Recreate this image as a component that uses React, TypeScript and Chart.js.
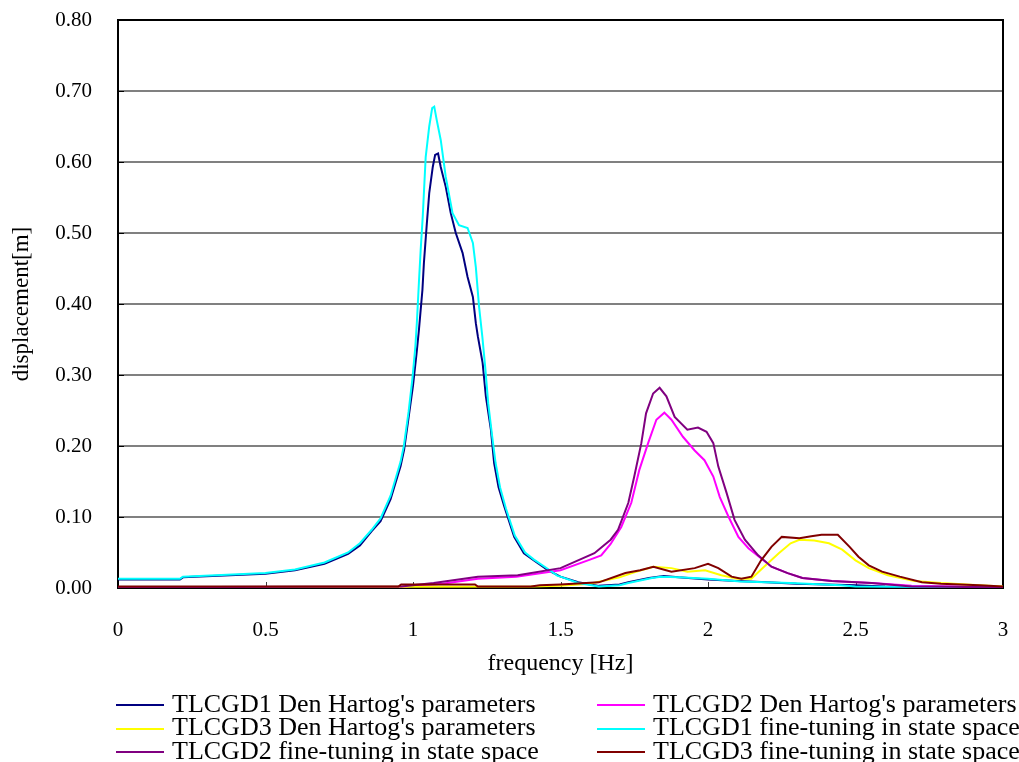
import React, { useEffect, useRef } from 'react';
import { Chart, registerables } from 'chart.js';

Chart.register(...registerables);

const FONT = '"Liberation Serif", "Times New Roman", serif';

const xTickLabels = ['0', '0.5', '1', '1.5', '2', '2.5', '3'];
const yTickLabels = ['0.00', '0.10', '0.20', '0.30', '0.40', '0.50', '0.60', '0.70', '0.80'];

const seriesNames = [
  "TLCGD1 Den Hartog's parameters",
  "TLCGD2 Den Hartog's parameters",
  "TLCGD3 Den Hartog's parameters",
  'TLCGD1 fine-tuning in state space',
  'TLCGD2 fine-tuning in state space',
  'TLCGD3 fine-tuning in state space',
];
const seriesColors = ['#000080', '#FF00FF', '#FFFF00', '#00FFFF', '#800080', '#800000'];

// TLCGD1 Den Hartog's parameters
const freq1DH = [0, 0.21, 0.22, 0.5, 0.6, 0.7, 0.78, 0.82, 0.86, 0.89, 0.924, 0.958, 0.97, 0.985, 1.0, 1.012, 1.02, 1.032, 1.037, 1.047, 1.055, 1.067, 1.075, 1.085, 1.094, 1.111, 1.128, 1.145, 1.168, 1.185, 1.203, 1.213, 1.22, 1.236, 1.247, 1.264, 1.275, 1.29, 1.31, 1.343, 1.376, 1.41, 1.457, 1.49, 1.5, 1.56, 1.63, 1.7, 1.73, 1.8, 1.85, 1.9, 2.0, 2.1, 2.2, 2.3, 2.4, 2.5, 2.6, 3.0];
const disp1DH = [0.012, 0.012, 0.015, 0.02, 0.025, 0.034, 0.048, 0.06, 0.08, 0.094, 0.125, 0.172, 0.195, 0.24, 0.285, 0.33, 0.363, 0.42, 0.458, 0.514, 0.556, 0.593, 0.61, 0.612, 0.593, 0.565, 0.528, 0.5, 0.472, 0.438, 0.41, 0.373, 0.354, 0.317, 0.27, 0.223, 0.176, 0.142, 0.114, 0.072, 0.049, 0.039, 0.025, 0.018, 0.016, 0.008, 0.003, 0.005, 0.008, 0.014, 0.017, 0.015, 0.012, 0.01, 0.008, 0.006, 0.005, 0.004, 0.002, 0.001];

// TLCGD2 Den Hartog's parameters
const freq2DH = [0, 0.96, 1.0, 1.1, 1.22, 1.35, 1.5, 1.6, 1.638, 1.67, 1.706, 1.74, 1.767, 1.797, 1.825, 1.852, 1.876, 1.915, 1.954, 1.988, 2.018, 2.04, 2.07, 2.103, 2.137, 2.17, 2.215, 2.27, 2.32, 2.42, 2.555, 2.69, 3.0];
const disp2DH = [0.001, 0.001, 0.003, 0.006, 0.013, 0.016, 0.025, 0.04, 0.046, 0.062, 0.086, 0.12, 0.166, 0.204, 0.237, 0.247, 0.237, 0.213, 0.194, 0.18, 0.157, 0.128, 0.1, 0.072, 0.056, 0.045, 0.03, 0.021, 0.014, 0.01, 0.007, 0.003, 0.001];

// TLCGD3 Den Hartog's parameters
const freq3DH = [0, 1.4, 1.5, 1.6, 1.7, 1.75, 1.815, 1.876, 1.93, 1.99, 2.045, 2.1, 2.147, 2.19, 2.24, 2.28, 2.31, 2.36, 2.41, 2.455, 2.5, 2.545, 2.61, 2.7, 2.79, 2.92, 3.0];
const disp3DH = [0.001, 0.002, 0.003, 0.006, 0.015, 0.022, 0.03, 0.028, 0.023, 0.025, 0.018, 0.013, 0.013, 0.03, 0.049, 0.063, 0.068, 0.067, 0.063, 0.054, 0.039, 0.028, 0.018, 0.01, 0.007, 0.004, 0.002];

// TLCGD1 fine-tuning in state space
const freq1FT = [0, 0.21, 0.22, 0.5, 0.6, 0.7, 0.78, 0.82, 0.86, 0.89, 0.924, 0.958, 0.969, 0.985, 0.998, 1.008, 1.013, 1.02, 1.026, 1.033, 1.043, 1.055, 1.065, 1.072, 1.08, 1.094, 1.111, 1.134, 1.156, 1.185, 1.203, 1.213, 1.224, 1.235, 1.245, 1.255, 1.268, 1.28, 1.295, 1.315, 1.345, 1.38, 1.41, 1.46, 1.49, 1.5, 1.56, 1.63, 1.7, 1.73, 1.81, 1.84, 1.9, 2.0, 2.11, 2.28, 2.45, 2.5, 3.0];
const disp1FT = [0.013, 0.013, 0.016, 0.021, 0.026, 0.036, 0.05, 0.063, 0.082, 0.098, 0.13, 0.178, 0.2, 0.248, 0.295, 0.34, 0.373, 0.43, 0.476, 0.523, 0.607, 0.65, 0.676, 0.678, 0.66, 0.631, 0.579, 0.528, 0.511, 0.507, 0.486, 0.452, 0.396, 0.354, 0.31, 0.26, 0.215, 0.176, 0.142, 0.112, 0.074, 0.05, 0.04, 0.026, 0.017, 0.016, 0.007, 0.002, 0.004, 0.007, 0.014, 0.016, 0.015, 0.013, 0.009, 0.007, 0.004, 0.002, 0.001];

// TLCGD2 fine-tuning in state space
const freq2FT = [0, 0.96, 1.0, 1.07, 1.22, 1.355, 1.5, 1.615, 1.67, 1.695, 1.73, 1.75, 1.774, 1.79, 1.814, 1.836, 1.859, 1.887, 1.93, 1.966, 1.995, 2.018, 2.035, 2.063, 2.09, 2.125, 2.17, 2.215, 2.27, 2.32, 2.42, 2.555, 2.69, 3.0];
const disp2FT = [0.001, 0.002, 0.004, 0.007, 0.016, 0.018, 0.028, 0.049, 0.068, 0.082, 0.12, 0.157, 0.204, 0.246, 0.274, 0.282, 0.27, 0.241, 0.223, 0.226, 0.22, 0.204, 0.171, 0.134, 0.096, 0.068, 0.046, 0.03, 0.021, 0.014, 0.01, 0.007, 0.002, 0.001];

// TLCGD3 fine-tuning in state space
const freq3FT = [0, 0.95, 0.96, 1.21, 1.22, 1.4, 1.43, 1.5, 1.63, 1.72, 1.77, 1.815, 1.876, 1.955, 2.0, 2.035, 2.08, 2.113, 2.147, 2.18, 2.215, 2.25, 2.31, 2.35, 2.385, 2.44, 2.48, 2.51, 2.545, 2.59, 2.65, 2.725, 2.79, 2.92, 3.0];
const disp3FT = [0.002, 0.002, 0.005, 0.005, 0.002, 0.002, 0.004, 0.005, 0.008, 0.021, 0.025, 0.03, 0.023, 0.028, 0.034, 0.028, 0.016, 0.013, 0.016, 0.039, 0.058, 0.072, 0.07, 0.073, 0.075, 0.075, 0.058, 0.044, 0.032, 0.023, 0.016, 0.008, 0.006, 0.004, 0.002];

const seriesFreqs = [freq1DH, freq2DH, freq3DH, freq1FT, freq2FT, freq3FT];
const seriesDisps = [disp1DH, disp2DH, disp3DH, disp1FT, disp2FT, disp3FT];

const frameAndTicksPlugin = {
  id: 'frameAndTicks',
  beforeDatasetsDraw(chart: any) {
    const { ctx, chartArea, scales } = chart;
    const { left, right, top, bottom } = chartArea;
    ctx.save();
    ctx.strokeStyle = '#000000';
    ctx.lineWidth = 1;
    scales.y.ticks.forEach((t: any) => {
      const py = Math.round(scales.y.getPixelForValue(t.value)) + 0.5;
      ctx.beginPath();
      ctx.moveTo(left, py);
      ctx.lineTo(left + 6, py);
      ctx.stroke();
    });
    ctx.strokeStyle = '#404040';
    scales.x.ticks.forEach((t: any) => {
      const px = Math.round(scales.x.getPixelForValue(t.value)) + 0.5;
      ctx.beginPath();
      ctx.moveTo(px, bottom);
      ctx.lineTo(px, bottom - 6);
      ctx.stroke();
    });
    ctx.strokeStyle = '#000000';
    ctx.lineWidth = 2;
    ctx.strokeRect(left, top, right - left, bottom - top);
    ctx.restore();
  },
};

const legendPlugin = {
  id: 'twoColumnLegend',
  afterDraw(chart: any) {
    const { ctx } = chart;
    ctx.save();
    ctx.font = `26px ${FONT}`;
    ctx.textBaseline = 'middle';
    ctx.textAlign = 'left';
    chart.data.datasets.forEach((ds: any, i: number) => {
      const col = i % 2;
      const row = Math.floor(i / 2);
      const lx = col === 0 ? 116 : 597;
      const y = 705 + row * 23.5;
      ctx.strokeStyle = ds.borderColor;
      ctx.lineWidth = 2;
      ctx.beginPath();
      ctx.moveTo(lx, Math.round(y));
      ctx.lineTo(lx + 48, Math.round(y));
      ctx.stroke();
      ctx.fillStyle = '#000000';
      ctx.fillText(ds.label, lx + 56, y);
    });
    ctx.restore();
  },
};

export default function App() {
  const canvasRef = useRef<HTMLCanvasElement | null>(null);

  useEffect(() => {
    document.body.style.margin = '0';
    const canvas = canvasRef.current;
    if (!canvas) return;

    const datasets = seriesNames.map((name, i) => ({
      label: name,
      data: seriesFreqs[i].map((f, k) => ({ x: f, y: seriesDisps[i][k] })),
      borderColor: seriesColors[i],
      backgroundColor: seriesColors[i],
      borderWidth: 2,
      pointRadius: 0,
      tension: 0,
      fill: false,
      order: seriesNames.length - i,
    }));

    const chart = new Chart(canvas, {
      type: 'line',
      data: { datasets },
      plugins: [frameAndTicksPlugin, legendPlugin],
      options: {
        animation: false,
        responsive: false,
        devicePixelRatio: 1,
        font: { family: FONT },
        layout: { padding: { top: 20, right: 16, left: 0, bottom: 0 } },
        plugins: {
          legend: { display: false },
          tooltip: { enabled: false },
          title: { display: false },
        },
        scales: {
          x: {
            type: 'linear',
            min: 0,
            max: 3,
            afterFit: (scale: any) => {
              scale.height = 174;
              scale.paddingLeft = 0;
              scale.paddingRight = 0;
            },
            ticks: {
              stepSize: 0.5,
              padding: 30,
              color: '#000000',
              font: { family: FONT, size: 21 },
              maxRotation: 0,
              callback: (v: any) => xTickLabels[Math.round(Number(v) * 2)] ?? '',
            },
            grid: { display: false, drawTicks: false },
            border: { display: false },
            title: {
              display: true,
              text: 'frequency [Hz]',
              color: '#000000',
              font: { family: FONT, size: 24 },
              padding: { top: 0, bottom: 84 },
            },
          },
          y: {
            type: 'linear',
            min: 0,
            max: 0.8,
            afterFit: (scale: any) => {
              scale.width = 118;
              scale.paddingTop = 0;
              scale.paddingBottom = 0;
            },
            ticks: {
              stepSize: 0.1,
              padding: 26,
              color: '#000000',
              font: { family: FONT, size: 21 },
              callback: (v: any) => yTickLabels[Math.round(Number(v) * 10)] ?? '',
            },
            grid: { color: '#808080', lineWidth: 2, drawTicks: false },
            border: { display: false },
            title: {
              display: true,
              text: 'displacement[m]',
              color: '#000000',
              font: { family: FONT, size: 23 },
              padding: { top: 8, bottom: 0 },
            },
          },
        },
      },
    });

    return () => {
      chart.destroy();
    };
  }, []);

  return (
    <div style={{ position: 'absolute', left: 0, top: 0, width: 1019, height: 762, background: '#ffffff' }}>
      <canvas ref={canvasRef} width={1019} height={762} style={{ display: 'block', width: 1019, height: 762 }} />
    </div>
  );
}
